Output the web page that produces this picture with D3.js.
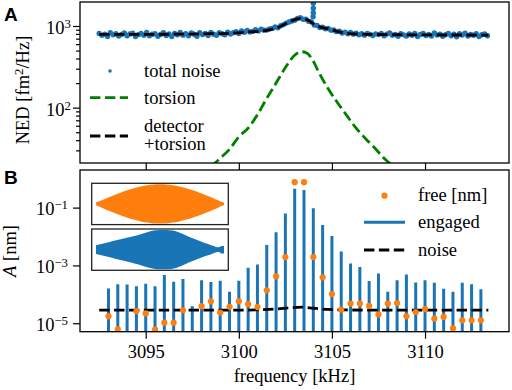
<!DOCTYPE html>
<html>
<head>
<meta charset="utf-8">
<script src="https://cdn.jsdelivr.net/npm/d3@7"></script>
<style>
body { margin: 0; background: #fff; }
svg { font-family: "Liberation Serif", serif; }
text { font-family: "Liberation Serif", serif; font-size: 18.5px; fill: #000; }
</style>
</head>
<body>
<div id="chart"></div>
<script>
//Size and frame
var width = 512;
var height = 390;
var left = 80, right = 509;
var topA = 2, bottomA = 163;
var topB = 170, bottomB = 331.7;
var blue = '#1a75b6', orange = '#ff7f0e', green = '#008000';

//Panel A: noise spectrum (fm^2/Hz)
var noiseStart = 3092.5, noiseStep = 0.15;
var noiseVals = [
  812, 768, 795, 741, 830, 779, 805, 752, 788, 822,
  760, 798, 815, 745, 783, 809, 771, 836, 757, 792,
  804, 749, 787, 826, 766, 798, 741, 813, 780, 833,
  772, 806, 758, 819, 791, 748, 828, 784, 811, 765,
  834, 793, 770, 825, 803, 779, 842, 798, 826, 851,
  810, 868, 837, 879, 846, 858, 902, 871, 912, 889,
  890, 918, 935, 970, 952, 1005, 1040, 1085, 1120, 1150,
  1178, 1236, 1262, 1208, 1210, 1142, 1117, 1025, 1018, 960,
  968, 922, 930, 889, 893, 852, 861, 818, 842, 801,
  836, 794, 818, 780, 805, 772, 812, 790, 764, 801,
  784, 812, 758, 796, 821, 770, 788, 747, 803, 779,
  755, 797, 769, 812, 741, 786, 808, 763, 790, 752,
  821, 774, 796, 748, 783, 809, 760, 791, 738, 802,
  777, 815, 754, 788, 769, 806, 745, 782, 799, 761
];
var spikeFreq = [3103.99, 3104.0, 3104.0, 3104.0, 3104.01, 3104.0];
var spikeVals = [1300, 1450, 1650, 1900, 2200, 2500];

var fitFreq = [3092.5, 3095, 3097, 3098.5, 3099.5, 3100.5, 3101.5, 3102.2, 3102.7, 3103.3,
               3103.7, 3104.1, 3104.9, 3105.8, 3107, 3109, 3111, 3113.4];
var fitVals = [790, 790, 795, 805, 815, 845, 885, 980, 1120, 1240,
               1180, 1030, 910, 815, 790, 780, 776, 775];

var torsionFreq = [3098.5, 3099, 3099.5, 3100, 3100.5, 3101, 3101.5, 3102, 3102.5, 3102.8, 3103.1, 3103.4,
                   3103.7, 3104.0, 3104.3, 3104.8, 3105.3, 3105.8, 3106.3, 3106.8, 3107.3, 3107.8, 3108.3];
var torsionVals = [19, 24, 31, 44, 56, 82, 130, 200, 310, 390, 458, 484,
                   458, 370, 270, 170, 115, 80, 56, 42, 32, 24, 19];

//Panel B: amplitudes (nm) at drive frequencies
var driveFreq = d3.range(41).map(function (i) { return 3093 + 0.5 * i; });
var engaged = [1.58e-4, 2.24e-4, 2.19e-4, 1.91e-4, 2.34e-4, 1.91e-4, 4.68e-4, 2.75e-4, 3.39e-4, 3.89e-5,
               3.09e-4, 2.69e-4, 2.95e-4, 1.23e-4, 2.95e-4, 8.32e-4, 1.07e-3, 5.13e-3, 1.41e-2, 6.31e-2,
               0.447, 0.407, 9.55e-2, 2.51e-2, 1.05e-2, 3.02e-3, 1.17e-3, 8.91e-4, 2.88e-4, 5.25e-4,
               1.23e-4, 3.09e-4, 4.90e-4, 2.57e-4, 3.09e-4, 2.51e-4, 1.55e-4, 1.23e-4, 2.51e-4, 2.24e-4,
               1.51e-4];
var free = [1.74e-5, 6.2e-6, 3e-6, 2.63e-5, 2.19e-5, 6.0e-6, 1.05e-5, 1.05e-5, 2.82e-5, 3e-6,
            3.89e-5, 5.75e-5, 2.34e-5, 3.72e-5, 5.75e-5, 4.57e-5, 3.63e-5, 1.38e-4, 4.17e-4, 1.95e-3,
            0.759, 0.759, 1.95e-3, 3.89e-4, 1.02e-4, 2.95e-5, 4.79e-5, 4.79e-5, 3.98e-5, 2.0e-5,
            4.79e-5, 5.01e-5, 1.74e-5, 2.45e-5, 3.09e-5, 1.45e-5, 1.66e-5, 6.6e-6, 1.26e-5, 1.26e-5,
            1.26e-5];
var noiseBFreq = [3092.5, 3095, 3098, 3100, 3101, 3102, 3102.8, 3103.4, 3104, 3104.8, 3105.8, 3107, 3110, 3113.4];
var noiseBVals = [2.85e-5, 2.85e-5, 2.85e-5, 2.85e-5, 2.9e-5, 3.1e-5, 3.45e-5, 3.6e-5, 3.3e-5, 3.0e-5,
                  2.88e-5, 2.85e-5, 2.85e-5, 2.85e-5];

//Inset envelopes (time normalised, amplitude normalised)
var insetT = [0, 0.05, 0.1, 0.15, 0.2, 0.25, 0.3, 0.35, 0.4, 0.45, 0.5, 0.55, 0.6, 0.65,
              0.7, 0.75, 0.8, 0.85, 0.9, 0.925, 0.95, 0.965, 0.98, 1];
var envFree = [0.07, 0.2, 0.34, 0.47, 0.6, 0.71, 0.81, 0.89, 0.95, 0.99, 1.0, 0.99, 0.95, 0.89,
               0.81, 0.71, 0.6, 0.47, 0.34, 0.27, 0.2, 0.15, 0.11, 0.07];
var envEngaged = [0.22, 0.3, 0.38, 0.46, 0.54, 0.62, 0.7, 0.79, 0.89, 0.97, 1.0, 1.0, 0.97, 0.87,
                  0.73, 0.59, 0.46, 0.34, 0.23, 0.17, 0.12, 0.13, 0.19, 0.19];

//Ticks
var xTicks = [3095, 3100, 3105, 3110];
var yTicksA = [100, 1000];
var yMinorA = [30, 40, 50, 60, 70, 80, 90, 200, 300, 400, 500, 600, 700, 800, 900];
var yTicksB = [1e-1, 1e-3, 1e-5];

//Scales
var x = d3.scaleLinear().domain([3091.47, 3114.51]).range([left, right]);
var yA = d3.scaleLog().domain([21, 1967]).range([bottomA, topA]);
var yB = d3.scaleLog().domain([5.1e-6, 2.0]).range([bottomB, topB]);

var svg = d3.select('#chart')
  .append('svg')
  .attr('width', width)
  .attr('height', height);

var defs = svg.append('defs');
defs.append('clipPath').attr('id', 'clipA').append('rect')
  .attr('x', left).attr('y', topA).attr('width', right - left).attr('height', bottomA - topA);
defs.append('clipPath').attr('id', 'clipB').append('rect')
  .attr('x', left).attr('y', topB).attr('width', right - left).attr('height', bottomB - topB);

function supLabel(sel, base, exp, size) {
  sel.append('tspan').text(base);
  sel.append('tspan').attr('dy', -6).style('font-size', size + 'px').text(exp);
}

function styleAxis(g) {
  g.attr('font-family', null).attr('font-size', null);
  g.select('.domain').remove();
  g.selectAll('.tick line').attr('stroke', '#000').attr('stroke-width', 1.2);
  g.selectAll('.tick text').style('font-family', '"Liberation Serif", serif').style('font-size', '18.5px');
}

// ---------- Panel A ----------
var gA = svg.append('g');
var plotA = gA.append('g').attr('clip-path', 'url(#clipA)');

var noisePts = noiseVals.map(function (v, i) { return [noiseStart + noiseStep * i, v]; })
  .concat(spikeVals.map(function (v, i) { return [spikeFreq[i], v]; }));

plotA.selectAll('circle')
  .data(noisePts)
  .enter()
  .append('circle')
  .attr('cx', function (d) { return x(d[0]); })
  .attr('cy', function (d) { return yA(d[1]); })
  .attr('r', 2.7)
  .style('fill', blue);

var lineA = d3.line()
  .x(function (d) { return x(d[0]); })
  .y(function (d) { return yA(d[1]); })
  .curve(d3.curveMonotoneX);

plotA.append('path')
  .attr('d', lineA(torsionFreq.map(function (f, i) { return [f, torsionVals[i]]; })))
  .style('fill', 'none').style('stroke', green)
  .style('stroke-width', 2.8).style('stroke-dasharray', '10.4,4.5');

plotA.append('path')
  .attr('d', lineA(fitFreq.map(function (f, i) { return [f, fitVals[i]]; })))
  .style('fill', 'none').style('stroke', '#000')
  .style('stroke-width', 2.8).style('stroke-dasharray', '10.4,4.5');

gA.append('g')
  .attr('transform', 'translate(0,' + bottomA + ')')
  .call(d3.axisBottom(x).tickValues(xTicks).tickSize(7).tickFormat(''))
  .call(styleAxis);

gA.append('g')
  .attr('transform', 'translate(' + left + ',0)')
  .call(d3.axisLeft(yA).tickValues(yMinorA).tickSize(4).tickFormat(''))
  .call(styleAxis);

var yAxisA = gA.append('g')
  .attr('transform', 'translate(' + left + ',0)')
  .call(d3.axisLeft(yA).tickValues(yTicksA).tickSize(7).tickFormat(''))
  .call(styleAxis);
yAxisA.selectAll('.tick').append('text')
  .attr('x', -9).attr('y', 7.5)
  .style('text-anchor', 'end')
  .each(function (d) { supLabel(d3.select(this), '10', String(Math.round(Math.log10(d))), 12.8); });

gA.append('rect')
  .attr('x', left).attr('y', topA).attr('width', right - left).attr('height', bottomA - topA)
  .style('fill', 'none').style('stroke', '#000').style('stroke-width', 1.3);

var ylabA = gA.append('text')
  .attr('transform', 'translate(29,90) rotate(-90)')
  .style('text-anchor', 'middle');
ylabA.append('tspan').text('NED [fm');
ylabA.append('tspan').attr('dy', -6).style('font-size', '12.8px').text('2');
ylabA.append('tspan').attr('dy', 6).text('/Hz]');

//Legend A
var legA = gA.append('g');
legA.append('circle').attr('cx', 110).attr('cy', 71).attr('r', 1.8).style('fill', blue);
legA.append('text').attr('x', 144).attr('y', 76.7).text('total noise');
legA.append('line').attr('x1', 90).attr('x2', 128).attr('y1', 97.7).attr('y2', 97.7)
  .style('stroke', green).style('stroke-width', 2.8).style('stroke-dasharray', '10.4,4.5');
legA.append('text').attr('x', 144).attr('y', 104.3).text('torsion');
legA.append('line').attr('x1', 90).attr('x2', 128).attr('y1', 136).attr('y2', 136)
  .style('stroke', '#000').style('stroke-width', 2.8).style('stroke-dasharray', '10.4,4.5');
legA.append('text').attr('x', 144).attr('y', 131.7).text('detector');
legA.append('text').attr('x', 144).attr('y', 150).text('+torsion');

// ---------- Panel B ----------
var gB = svg.append('g');
var plotB = gB.append('g').attr('clip-path', 'url(#clipB)');

plotB.selectAll('line.bar')
  .data(driveFreq)
  .enter()
  .append('line')
  .attr('class', 'bar')
  .attr('x1', function (d) { return x(d); })
  .attr('x2', function (d) { return x(d); })
  .attr('y1', bottomB + 5)
  .attr('y2', function (d, i) { return yB(engaged[i]); })
  .style('stroke', blue)
  .style('stroke-width', 3);

plotB.append('path')
  .attr('d', d3.line()
    .x(function (d) { return x(d[0]); })
    .y(function (d) { return yB(d[1]); })
    .curve(d3.curveMonotoneX)(noiseBFreq.map(function (f, i) { return [f, noiseBVals[i]]; })))
  .style('fill', 'none').style('stroke', '#000')
  .style('stroke-width', 2.8).style('stroke-dasharray', '10.4,4.5');

plotB.selectAll('circle')
  .data(driveFreq)
  .enter()
  .append('circle')
  .attr('cx', function (d) { return x(d); })
  .attr('cy', function (d, i) { return yB(free[i]); })
  .attr('r', 3.1)
  .style('fill', orange);

gB.append('g')
  .attr('transform', 'translate(0,' + bottomB + ')')
  .call(d3.axisBottom(x).tickValues(xTicks).tickSize(7).tickPadding(6).tickFormat(d3.format('d')))
  .call(styleAxis);

var yAxisB = gB.append('g')
  .attr('transform', 'translate(' + left + ',0)')
  .call(d3.axisLeft(yB).tickValues(yTicksB).tickSize(7).tickFormat(''))
  .call(styleAxis);
yAxisB.selectAll('.tick').append('text')
  .attr('x', -12).attr('y', 7.3)
  .style('text-anchor', 'end')
  .each(function (d) { supLabel(d3.select(this), '10', '\u2212' + Math.abs(Math.round(Math.log10(d))), 12.8); });

gB.append('rect')
  .attr('x', left).attr('y', topB).attr('width', right - left).attr('height', bottomB - topB)
  .style('fill', 'none').style('stroke', '#000').style('stroke-width', 1.3);

var ylabB = gB.append('text')
  .attr('transform', 'translate(16,251) rotate(-90)')
  .style('text-anchor', 'middle');
ylabB.append('tspan').style('font-style', 'italic').text('A');
ylabB.append('tspan').text(' [nm]');

gB.append('text')
  .attr('x', (left + right) / 2).attr('y', 382)
  .style('text-anchor', 'middle')
  .text('frequency [kHz]');

//Legend B
var legB = gB.append('g');
legB.append('circle').attr('cx', 384.5).attr('cy', 195.7).attr('r', 3.1).style('fill', orange);
legB.append('text').attr('x', 418).attr('y', 201).text('free [nm]');
legB.append('line').attr('x1', 364).attr('x2', 405).attr('y1', 222.3).attr('y2', 222.3)
  .style('stroke', blue).style('stroke-width', 3);
legB.append('text').attr('x', 418).attr('y', 228.3).text('engaged');
legB.append('line').attr('x1', 364).attr('x2', 405).attr('y1', 250).attr('y2', 250)
  .style('stroke', '#000').style('stroke-width', 2.8).style('stroke-dasharray', '10.4,4.5');
legB.append('text').attr('x', 418).attr('y', 255.7).text('noise');

//Insets with ring-down envelopes
var insetX = d3.scaleLinear().domain([0, 1]).range([96, 224]);
var insets = [
  { y: 183.3, env: envFree, color: orange },
  { y: 229, env: envEngaged, color: blue }
];
insets.forEach(function (ins) {
  var h = 41.3;
  var c = ins.y + h / 2;
  var amp = d3.scaleLinear().domain([0, 1]).range([0, h / 2 - 1]);
  gB.append('rect')
    .attr('x', 91.7).attr('y', ins.y).attr('width', 136.6).attr('height', h)
    .style('fill', '#fff');
  gB.append('path')
    .attr('d', d3.area()
      .x(function (d, i) { return insetX(insetT[i]); })
      .y0(function (d) { return c + amp(d); })
      .y1(function (d) { return c - amp(d); })
      .curve(d3.curveMonotoneX)(ins.env))
    .style('fill', ins.color);
  gB.append('rect')
    .attr('x', 91.7).attr('y', ins.y).attr('width', 136.6).attr('height', h)
    .style('fill', 'none').style('stroke', '#222').style('stroke-width', 1.3);
});

//Panel letters
svg.append('text').attr('x', 4).attr('y', 21)
  .style('font-family', '"Liberation Sans", Arial, sans-serif').style('font-weight', 'bold').style('font-size', '19px')
  .text('A');
svg.append('text').attr('x', 4).attr('y', 184)
  .style('font-family', '"Liberation Sans", Arial, sans-serif').style('font-weight', 'bold').style('font-size', '19px')
  .text('B');
</script>
</body>
</html>
